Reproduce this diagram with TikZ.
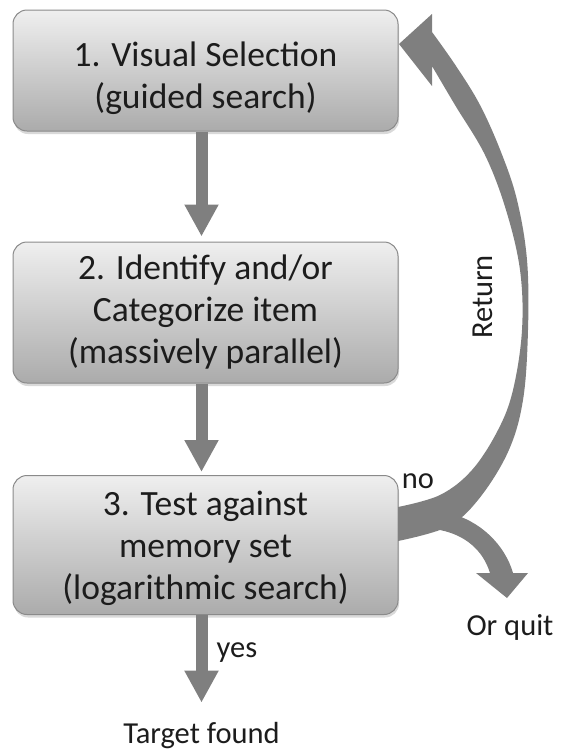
\documentclass[tikz,border=0pt]{standalone}
\usepackage{fontspec}
\setmainfont{Carlito}
\usetikzlibrary{arrows.meta,shadows}
\definecolor{boxtop}{HTML}{EFEFEF}
\definecolor{boxbot}{HTML}{ABABAB}
\definecolor{boxline}{HTML}{8A8A8A}
\definecolor{flowgray}{HTML}{7F7F7F}
\definecolor{textgray}{HTML}{1C1C1C}

\begin{document}
\begin{tikzpicture}[x=1pt, y=-1pt,
  box/.style={draw=boxline, line width=1pt, rounded corners=14pt, top color=boxtop, bottom color=boxbot,
    minimum width=385pt, inner sep=0pt, align=center, text=textgray,
    font=\fontsize{35.5}{42}\selectfont,
    drop shadow={shadow xshift=1pt, shadow yshift=-3pt, opacity=0.3}},
  lbl/.style={text=textgray, inner sep=0pt, font=\fontsize{30.5}{36}\selectfont},
  flow/.style={draw=flowgray, line width=12pt, -{Triangle[width=32pt,length=32pt]}}]
\useasboundingbox (0,0) rectangle (563,755);

\node[box, minimum height=121pt] (1) at (205.5,70.5) {\rule{0pt}{40pt}1. Visual Selection\\(guided search)};
\node[box, minimum height=141pt] (2) at (205.5,312.5) {2. Identify and/or\\Categorize item\\(massively parallel)};
\node[box, minimum height=139pt] (3) at (205.5,545) {\rule{0pt}{32pt}3. Test against\\memory set\\(logarithmic search)};

\node[lbl, anchor=base] (4) at (201.5,743) {Target found};
\node[lbl, anchor=base] (5) at (510,635) {Or quit};
\node[lbl, anchor=base] (6) at (237,657) {yes};
\node[lbl, anchor=base] (7) at (418,488) {no};
\node[lbl, rotate=90, anchor=base] (8) at (492,297) {Return};

\draw[flow, shorten >=5pt] ([xshift=-4pt]1.south) -- ([xshift=-4pt]2.north);
\draw[flow, shorten >=3pt] ([xshift=-4pt]2.south) -- ([xshift=-4pt]3.north);
\draw[flow, shorten >=19pt] ([xshift=-4pt]3.south) -- (4.north);

% no: back to step 1
\fill[flowgray] plot[smooth, tension=0.6] coordinates {(398,541) (447,527) (478,500) (508,452) (523,400) (528,330)
    (527,260) (517,200) (501,152) (480,105) (456,66) (432,32)}
  -- (432,14) -- (399,44) -- (432,86) -- (432,66)
  -- plot[smooth, tension=0.6] coordinates {(432,66) (455,105) (485,155) (506,210) (520,270) (522,330)
    (513,390) (498,430) (472,470) (440,495) (398,507)} -- cycle;
% or quit
\fill[flowgray] (440,530) .. controls (465,535) and (483,550) .. (490,573) -- (476,573) -- (507,598)
  -- (528,573) -- (513,573) .. controls (505,545) and (480,520) .. (448,513) -- cycle;
\end{tikzpicture}
\end{document}
